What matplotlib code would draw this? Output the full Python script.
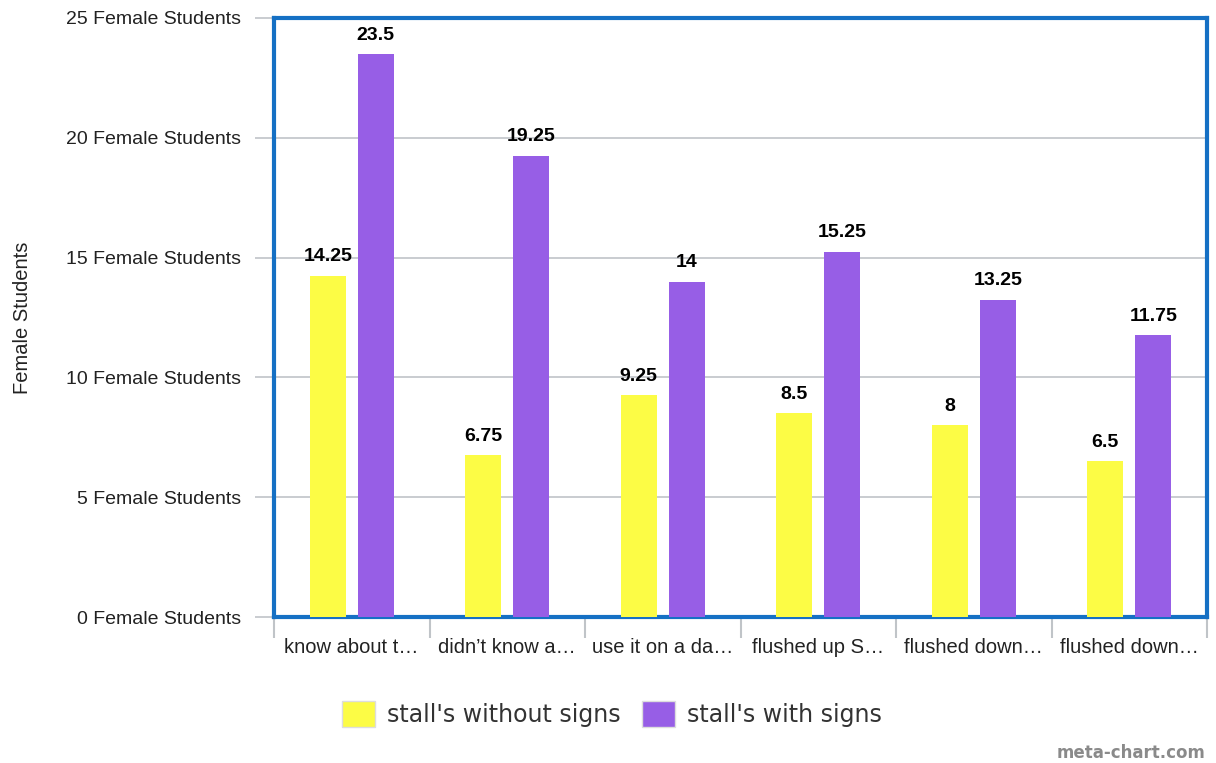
import matplotlib
matplotlib.use('Agg')
import matplotlib.pyplot as plt
import numpy as np

# data
categories = ["know about t\u2026", "didn\u2019t know a\u2026", "use it on a da\u2026",
              "flushed up S\u2026", "flushed down\u2026", "flushed down\u2026"]
without_signs = [14.25, 6.75, 9.25, 8.5, 8, 6.5]
with_signs = [23.5, 19.25, 14, 15.25, 13.25, 11.75]
y_ticks = [0, 5, 10, 15, 20, 25]
y_tick_labels = [f"{v} Female Students" for v in y_ticks]

YELLOW = '#FCFC45'
PURPLE = '#975EE6'
BLUE = '#1570C4'
GRID = '#C0C4C8'

plt.rcParams['font.family'] = ['Liberation Sans', 'DejaVu Sans']

fig = plt.figure(figsize=(12.16, 7.63), dpi=100)
ax = fig.add_axes([274 / 1216, 1 - 617 / 763, 933 / 1216, 599 / 763])

x = np.arange(len(categories))
w = 0.23
off = 0.154
b1 = ax.bar(x - off, without_signs, w, color=YELLOW, zorder=3)
b2 = ax.bar(x + off, with_signs, w, color=PURPLE, zorder=3)

# value labels above bars
for bars, vals in ((b1, without_signs), (b2, with_signs)):
    for rect, v in zip(bars, vals):
        ax.annotate(f"{v:g}", (rect.get_x() + rect.get_width() / 2, v),
                    xytext=(0, 7.5), textcoords='offset points',
                    ha='center', va='bottom', fontsize=14, fontweight='bold',
                    color='black')

ax.set_xlim(-0.5, len(categories) - 0.5)
ax.set_ylim(0, 25)
ax.set_yticks(y_ticks)
ax.set_yticklabels(y_tick_labels, fontsize=14, color='#222222')
ax.yaxis.grid(True, color=GRID, linewidth=1.2, zorder=0)
ax.tick_params(axis='y', length=14, width=1.2, color=GRID, pad=10)

ax.set_xticks(x)
ax.set_xticklabels(categories, fontsize=14.5, color='#222222')
ax.tick_params(axis='x', which='major', length=0, pad=15)
ax.set_xticks(np.arange(-0.5, len(categories)), minor=True)
ax.tick_params(axis='x', which='minor', length=15, width=1.5, color=GRID)

for s in ax.spines.values():
    s.set_color(BLUE)
    s.set_linewidth(3)

ax.set_ylabel("Female Students", fontsize=14.5, color='#222222', labelpad=24)

handles = [plt.Rectangle((0, 0), 1, 1, facecolor=YELLOW, edgecolor='#dddddd'),
           plt.Rectangle((0, 0), 1, 1, facecolor=PURPLE, edgecolor='#dddddd')]
leg = fig.legend(handles, ["stall's without signs", "stall's with signs"],
                 loc='center', bbox_to_anchor=(612 / 1216, 1 - 714 / 763),
                 ncol=2, frameon=False, handlelength=1.4, handleheight=1.3,
                 handletextpad=0.5, columnspacing=0.9,
                 prop={'family': 'DejaVu Sans', 'size': 17})
for t in leg.get_texts():
    t.set_color('#333333')

fig.text(1205 / 1216, 1 - 753 / 763, "meta-chart.com", ha='right', va='center',
         fontsize=12, fontweight='bold', color='#8a8a8a', family='DejaVu Sans')

fig.savefig('out.png', dpi=100)
